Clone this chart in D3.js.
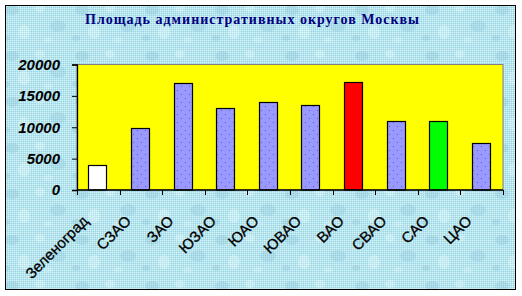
<!DOCTYPE html>
<html>
<head>
<meta charset="utf-8">
<script src="https://cdn.jsdelivr.net/npm/d3@7"></script>
<style>
  html, body { margin: 0; padding: 0; background: #fff; }
  svg { display: block; }
</style>
</head>
<body>
<div id="chart"></div>
<script>
// data
const districts = ["Зеленоград", "СЗАО", "ЗАО", "ЮЗАО", "ЮАО", "ЮВАО", "ВАО", "СВАО", "САО", "ЦАО"];
const areas = [3950, 9850, 17000, 13050, 13950, 13500, 17150, 10950, 10950, 7550];
const barFills = ["#ffffff", "dots", "dots", "dots", "dots", "dots", "#ff0000", "dots", "#00ff00", "dots"];
const yTicks = [0, 5000, 10000, 15000, 20000];
const chartTitle = "Площадь административных округов Москвы";

const W = 522, H = 296;
const plot = { left: 77, right: 503, top: 64.5, bottom: 190 };

const svg = d3.select("#chart").append("svg")
  .attr("width", W)
  .attr("height", H);

const defs = svg.append("defs");

// dithered water texture for the chart area
const dither = defs.append("pattern")
  .attr("id", "dither")
  .attr("width", 2).attr("height", 2)
  .attr("patternUnits", "userSpaceOnUse");
dither.append("rect").attr("width", 2).attr("height", 2).attr("fill", "#b4e4ee");
dither.append("rect").attr("width", 1).attr("height", 1).attr("fill", "#d6f4f8");
dither.append("rect").attr("x", 1).attr("y", 1).attr("width", 1).attr("height", 1).attr("fill", "#9fd4e2");

const drops = defs.append("pattern")
  .attr("id", "drops")
  .attr("width", 70).attr("height", 46)
  .attr("patternUnits", "userSpaceOnUse");
[
  [12, 10, 7, 5, "#8cc4d6"], [40, 8, 5, 4, "#e4f8fc"], [58, 26, 8, 6, "#93c9da"],
  [24, 32, 6, 7, "#e8fafc"], [6, 38, 4, 3, "#8fc6d8"], [48, 40, 5, 3, "#d8f2f8"]
].forEach(([cx, cy, rx, ry, c]) => {
  drops.append("ellipse")
    .attr("cx", cx).attr("cy", cy).attr("rx", rx).attr("ry", ry)
    .attr("fill", c).attr("opacity", 0.35);
});

// dotted blue bar fill
const dots = defs.append("pattern")
  .attr("id", "bardots")
  .attr("width", 8).attr("height", 8)
  .attr("patternUnits", "userSpaceOnUse");
dots.append("rect").attr("width", 8).attr("height", 8).attr("fill", "#9999ff");
dots.append("rect").attr("x", 1).attr("y", 2).attr("width", 1).attr("height", 1).attr("fill", "#5a5ad0");
dots.append("rect").attr("x", 5).attr("y", 6).attr("width", 1).attr("height", 1).attr("fill", "#5a5ad0");

// chart area
svg.append("rect")
  .attr("x", 5.5).attr("y", 5.5)
  .attr("width", 510).attr("height", 284)
  .attr("fill", "url(#dither)");
svg.append("rect")
  .attr("x", 5.5).attr("y", 5.5)
  .attr("width", 510).attr("height", 284)
  .attr("fill", "url(#drops)")
  .attr("stroke", "#000")
  .attr("stroke-width", 1);

// title
svg.append("text")
  .attr("x", 252)
  .attr("y", 24)
  .attr("text-anchor", "middle")
  .attr("font-family", "'Liberation Serif', 'Times New Roman', serif")
  .attr("font-weight", "bold")
  .attr("font-size", 14)
  .attr("fill", "#000080")
  .attr("textLength", 334)
  .attr("lengthAdjust", "spacing")
  .text(chartTitle);

// scales
const x = d3.scaleBand()
  .domain(districts)
  .range([plot.left, plot.right])
  .padding(0);

const y = d3.scaleLinear()
  .domain([0, 20000])
  .range([plot.bottom, plot.top]);

// plot area
svg.append("rect")
  .attr("x", plot.left)
  .attr("y", plot.top)
  .attr("width", plot.right - plot.left)
  .attr("height", plot.bottom - plot.top)
  .attr("fill", "#ffff00")
  .attr("stroke", "#808080")
  .attr("stroke-width", 1);

// bars
const barW = 18;
svg.selectAll("rect.bar")
  .data(districts)
  .enter()
  .append("rect")
  .attr("class", "bar")
  .attr("x", d => Math.round(x(d) + x.bandwidth() / 2 - barW / 2) - 0.5)
  .attr("y", (d, i) => Math.round(y(areas[i])) + 0.5)
  .attr("width", barW)
  .attr("height", (d, i) => plot.bottom - Math.round(y(areas[i])) - 0.5)
  .attr("fill", (d, i) => barFills[i] === "dots" ? "url(#bardots)" : barFills[i])
  .attr("stroke", "#000")
  .attr("stroke-width", 1.2);

// y axis
const yAxis = svg.append("g")
  .attr("transform", `translate(${plot.left},0)`)
  .call(d3.axisLeft(y).tickValues(yTicks).tickSize(5).tickPadding(12).tickFormat(d3.format("d")));
yAxis.select(".domain").attr("stroke", "#000").attr("stroke-width", 1.3);
yAxis.selectAll(".tick line").attr("stroke", "#000");
yAxis.selectAll(".tick text")
  .attr("fill", "#000")
  .attr("font-family", "'Liberation Sans', Arial, sans-serif")
  .attr("font-size", 15)
  .attr("font-weight", "bold")
  .attr("font-style", "italic");

// x axis: baseline and ticks between categories
const boundaries = districts.map(d => x(d)).concat([plot.right]);
svg.append("line")
  .attr("x1", plot.left).attr("x2", plot.right)
  .attr("y1", plot.bottom).attr("y2", plot.bottom)
  .attr("stroke", "#000")
  .attr("stroke-width", 1.3);
svg.selectAll("line.xtick")
  .data(boundaries)
  .enter()
  .append("line")
  .attr("class", "xtick")
  .attr("x1", d => Math.round(d) + 0.5).attr("x2", d => Math.round(d) + 0.5)
  .attr("y1", plot.bottom).attr("y2", plot.bottom + 5)
  .attr("stroke", "#000");

// rotated category labels
svg.selectAll("text.xlabel")
  .data(districts)
  .enter()
  .append("text")
  .attr("class", "xlabel")
  .attr("transform", d => `translate(${x(d) + x.bandwidth() / 2 - 9},${222}) rotate(-45)`)
  .attr("text-anchor", "end")
  .attr("font-family", "'Liberation Sans', Arial, sans-serif")
  .attr("font-size", 15)
  .attr("fill", "#000")
  .attr("stroke", "#000")
  .attr("stroke-width", 0.3)
  .text(d => d);
</script>
</body>
</html>
